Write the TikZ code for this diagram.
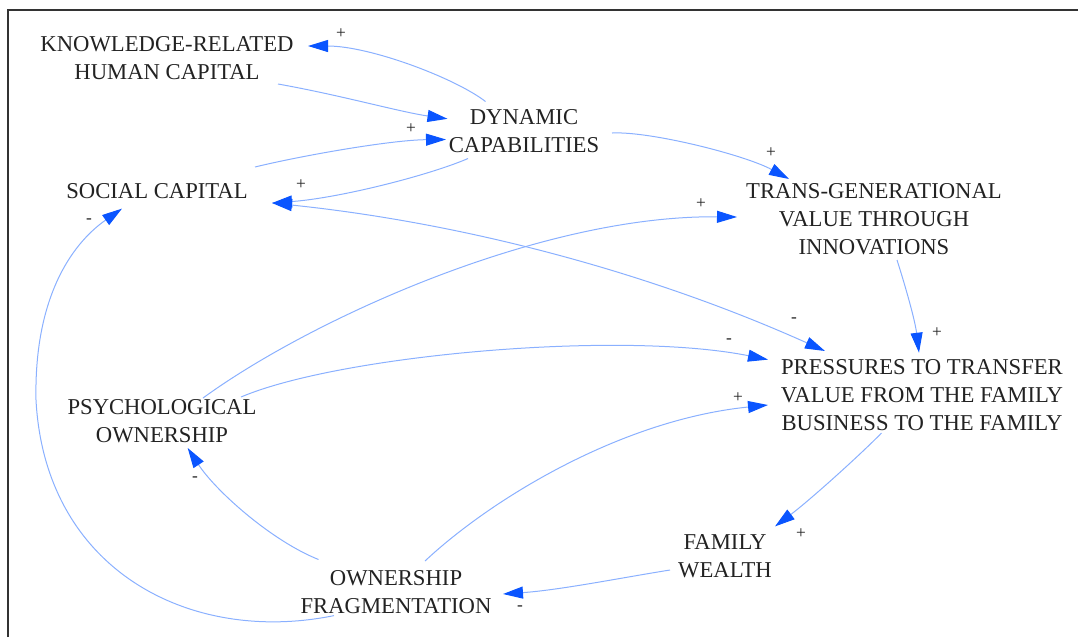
\documentclass[tikz,border=0pt]{standalone}
\usepackage{fontspec}
\setmainfont{Liberation Serif}
\usetikzlibrary{arrows.meta,calc}
\definecolor{linkblue}{HTML}{8AB0FF}
\definecolor{tipblue}{HTML}{0A55FF}
\definecolor{txt}{HTML}{222222}
\begin{document}
\begin{tikzpicture}[x=0.75pt,y=-0.75pt,
  var/.style={font=\fontsize{17}{21}\selectfont, align=center, inner sep=0pt, text=txt},
  sign/.style={font=\fontsize{13}{13}\selectfont, inner sep=0pt, text=txt},
  tipa/.tip={Triangle[length=15pt,width=9pt,color=tipblue]},
  link/.style={draw=linkblue, line width=0.75pt, -tipa},
  twoway/.style={draw=linkblue, line width=0.75pt, tipa-tipa}]

\useasboundingbox (0,0) rectangle (1078,637);
\draw[line width=1.5pt, color=black!80] (8,637) -- (8,10) -- (1078,10);

% variables
\node[var] (know)  at (167,58)    {KNOWLEDGE-RELATED\\HUMAN CAPITAL};
\node[var] (dyn)   at (524,131.5) {DYNAMIC\\CAPABILITIES};
\node[var] (soc)   at (157,191)   {SOCIAL CAPITAL};
\node[var] (trans) at (874,219)   {TRANS-GENERATIONAL\\VALUE THROUGH\\INNOVATIONS};
\node[var] (press) at (922,395)   {PRESSURES TO TRANSFER\\VALUE FROM THE FAMILY\\BUSINESS TO THE FAMILY};
\node[var] (psych) at (162,421.5) {PSYCHOLOGICAL\\OWNERSHIP};
\node[var] (fam)   at (725,556)   {FAMILY\\WEALTH};
\node[var] (own)   at (396,592)   {OWNERSHIP\\FRAGMENTATION};

\coordinate (leftbend) at (36,400);

% links
\draw[link] ($(dyn)+(-38.5,-30)$) .. controls (455,78) and (370,46) .. ($(know)+(141,-12)$);
\draw[link] ($(know)+(111,26)$) .. controls (340,95) and (400,112) .. ($(dyn)+(-76.5,-12.7)$);
\draw[link] ($(soc)+(98,-24)$) .. controls (300,156) and (390,140) .. ($(dyn)+(-78,8)$);
\draw[link] ($(dyn)+(-56,27)$) .. controls (430,175) and (340,198) .. ($(soc)+(115,12)$);
\draw[twoway] ($(soc)+(115,12)$) .. controls (464,223) and (649,272) .. ($(press)+(-97,-44)$);
\draw[link] ($(psych)+(41,-23.5)$) .. controls (310,320) and (540,215) .. ($(trans)+(-137,-2)$);
\draw[link] ($(psych)+(79,-24.5)$) .. controls (340,355) and (620,330) .. ($(press)+(-154,-35.4)$);
\draw[link] ($(trans)+(23,41)$) .. controls (905,285) and (915,320) .. ($(press)+(-3,-42.3)$);
\draw[link] ($(dyn)+(88,1.5)$) .. controls (650,131) and (745,155) .. ($(trans)+(-85,-40)$);
\draw[link] ($(press)+(-40.5,38)$) .. controls (860,455) and (810,500) .. ($(fam)+(50,-29.6)$);
\draw[link] ($(fam)+(-55,14)$) .. controls (620,578) and (560,590) .. ($(own)+(107,2)$);
\draw[link] ($(own)+(29,-31)$) .. controls (490,500) and (620,420) .. ($(press)+(-154,10)$);
\draw[link] ($(own)+(-77.5,-32.5)$) .. controls (270,540) and (215,490) .. ($(psych)+(25.7,26.5)$);
\draw[link] ($(own)+(-62,23.6)$) .. controls (190,645) and (45,570) .. (leftbend)
  .. controls (34,300) and (70,245) .. ($(soc)+(-35,17.6)$);

% polarities
\node[sign] (p1)  at (341,34)  {+};
\node[sign] (p2)  at (411,129) {+};
\node[sign] (p3)  at (301,185) {+};
\node[sign] (p4)  at (771,153) {+};
\node[sign] (p5)  at (701,204) {+};
\node[sign] (p6)  at (89,221)  {-};
\node[sign] (p7)  at (794,320) {-};
\node[sign] (p8)  at (729,341) {-};
\node[sign] (p9)  at (937,333) {+};
\node[sign] (p10) at (738,398) {+};
\node[sign] (p11) at (801,534) {+};
\node[sign] (p12) at (195,479) {-};
\node[sign] (p13) at (520,608) {-};
\end{tikzpicture}
\end{document}
